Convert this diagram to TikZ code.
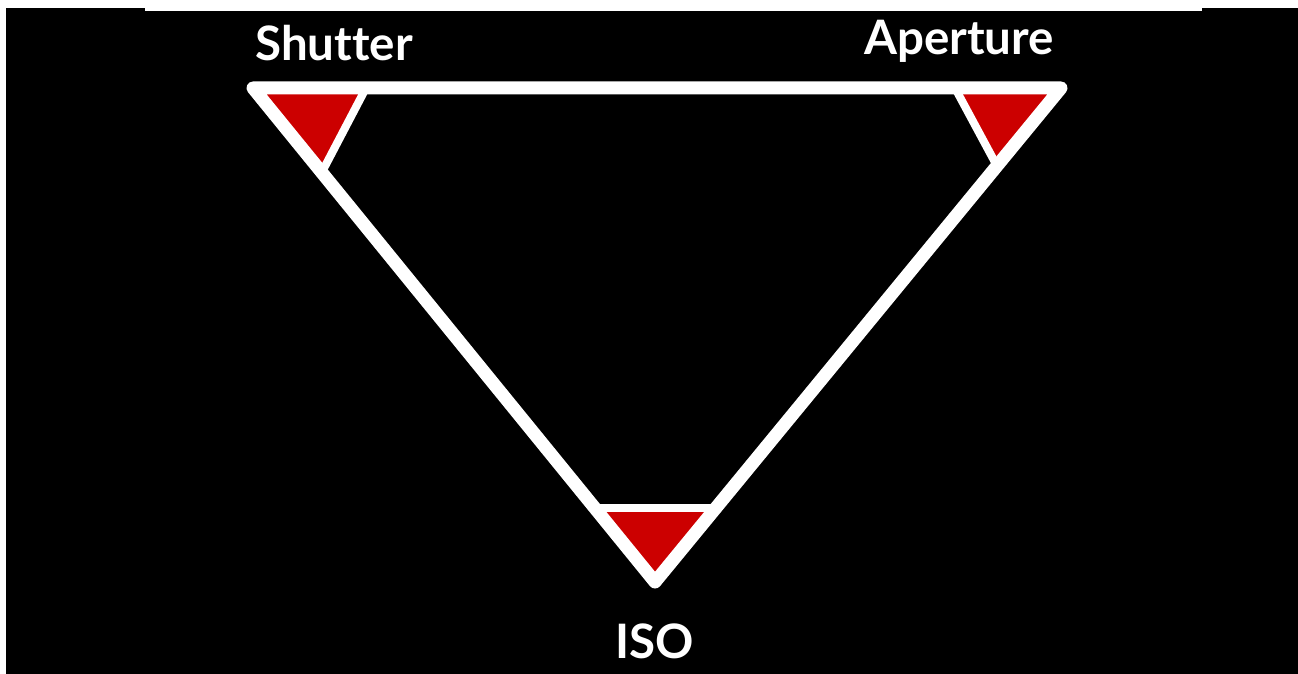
\documentclass[tikz,border=0pt]{standalone}
\usepackage{fontspec}
\setmainfont{Lato}[Ligatures=NoCommon]
\usepackage{xcolor}
\usepackage{tikz}
\definecolor{cornerred}{RGB}{204,0,0}

\begin{document}
\begin{tikzpicture}[
    x=0.01cm, y=-0.01cm,
    edge/.style={draw=white, line width=0.13cm, line join=round, line cap=round},
    cutline/.style={draw=white, line width=0.08cm},
    corner/.style={fill=cornerred},
    lbl/.style={text=white, font=\fontsize{13.5}{16}\selectfont\bfseries, inner sep=0pt},
]
\useasboundingbox (0,0) rectangle (1298,674);

% Background
\fill[white] (0,0) rectangle (1298,674);
\fill[black] (6,8) rectangle (1298,674);
\fill[white] (145,8) rectangle (1202,11);

% Vertices and cut points
\coordinate (sh)  at (253,88);
\coordinate (ap)  at (1061,88);
\coordinate (iso) at (655,582);
\coordinate (shA) at (366,88);
\coordinate (shB) at (322,172);
\coordinate (apA) at (955,88);
\coordinate (apB) at (997,166);
\coordinate (isoA) at (595,508);
\coordinate (isoB) at (715,508);

% Red corners
\fill[corner] (sh) -- (shA) -- (shB) -- cycle;
\fill[corner] (ap) -- (apA) -- (apB) -- cycle;
\fill[corner] (iso) -- (isoA) -- (isoB) -- cycle;
\draw[cutline] (shA) -- (shB);
\draw[cutline] (apA) -- (apB);
\draw[cutline] (isoA) -- (isoB);

% Triangle
\draw[edge] (sh) -- (ap) -- (iso) -- cycle;

% Labels
\node[lbl] (shutter)  at (334,43)  {Shutter};
\node[lbl] (aperture) at (959,41)  {Aperture};
\node[lbl] (isolbl)   at (655,641) {ISO};

\end{tikzpicture}
\end{document}
